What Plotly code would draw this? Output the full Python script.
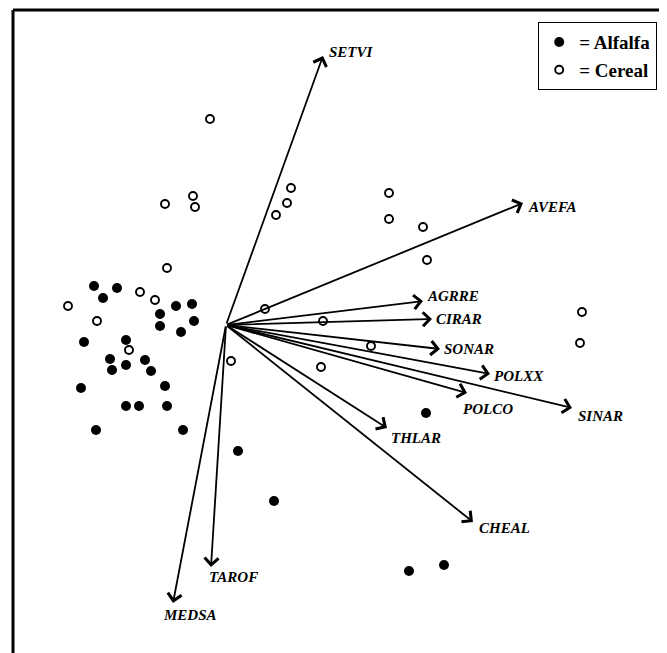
import plotly.graph_objects as go

# Sample scores (ordination axes 1 and 2)
alfalfa_x = [-1.32, -1.09, -1.23, -0.66, -0.50, -0.34, -0.66, -0.32, -0.45, -1.42, -1.00, -1.16, -0.81, -1.14,
             -1.00, -0.75, -1.45, -0.61, -1.00, -0.87, -0.59, -1.30, -0.43, 2.00, 0.12, 0.48, 1.83, 2.18]
alfalfa_y = [0.39, 0.37, 0.27, 0.11, 0.19, 0.21, -0.01, 0.04, -0.07, -0.17, -0.15, -0.34, -0.35, -0.45,
             -0.40, -0.46, -0.63, -0.61, -0.81, -0.81, -0.81, -1.05, -1.05, -0.88, -1.26, -1.76, -2.46, -2.40]

cereal_x = [-0.59, -0.86, -0.71, -1.58, -1.29, -0.97, 0.05, -0.16, -0.61, -0.33, -0.31, 0.65, 0.61, 0.50,
            1.63, 1.63, 1.97, 2.01, 0.39, 0.97, 1.45, 0.95, 3.56, 3.54]
cereal_y = [0.57, 0.33, 0.25, 0.19, 0.04, -0.25, -0.36, 2.06, 1.21, 1.29, 1.18, 1.37, 1.22, 1.10,
            1.32, 1.06, 0.98, 0.65, 0.16, 0.04, -0.21, -0.42, 0.13, -0.18]

# Species vectors (arrow tips)
species = ["SETVI", "AVEFA", "AGRRE", "CIRAR", "SONAR", "POLXX", "POLCO", "SINAR", "THLAR", "CHEAL", "TAROF", "MEDSA"]
species_x = [0.97, 2.97, 1.97, 2.06, 2.14, 2.64, 2.41, 3.46, 1.61, 2.47, -0.15, -0.53]
species_y = [2.69, 1.22, 0.24, 0.06, -0.24, -0.49, -0.68, -0.83, -1.03, -1.97, -2.42, -2.78]

# label placement offsets (pixels) relative to arrow tip
label_shift = {
    "SETVI": (4, 4), "AVEFA": (3, -4), "AGRRE": (2, 5), "CIRAR": (2, 0), "SONAR": (2, 0),
    "POLXX": (2, -2), "POLCO": (-6, -16), "SINAR": (4, -8), "THLAR": (2, -10), "CHEAL": (4, -6),
    "TAROF": (-4, -10), "MEDSA": (-12, -12),
}

W, H = 667, 653
OFF = 8  # page body margin of the browser, compensated in the ranges below
serif = "Liberation Serif, Times New Roman, serif"

fig = go.Figure()
fig.add_trace(go.Scatter(
    x=alfalfa_x, y=alfalfa_y, mode="markers", name="= Alfalfa",
    marker=dict(symbol="circle", size=10, color="black", line=dict(width=0)),
))
fig.add_trace(go.Scatter(
    x=cereal_x, y=cereal_y, mode="markers", name="= Cereal",
    marker=dict(symbol="circle-open", size=8, color="black", line=dict(width=1.9, color="black")),
))

annotations = []
for name, sx, sy in zip(species, species_x, species_y):
    annotations.append(dict(
        x=sx, y=sy, ax=0, ay=0, xref="x", yref="y", axref="x", ayref="y",
        showarrow=True, arrowhead=4, arrowsize=1.5, arrowwidth=1.8, arrowcolor="black",
        standoff=0, startstandoff=0, text="",
    ))
    dx, dy = label_shift[name]
    annotations.append(dict(
        x=sx, y=sy, xref="x", yref="y", showarrow=False,
        text=f"<b><i>{name}</i></b>", xanchor="left", yanchor="middle",
        xshift=dx, yshift=dy,
        font=dict(family=serif, size=15, color="black"),
    ))

fig.update_layout(
    width=W, height=H,
    margin=dict(l=0, r=0, t=0, b=0),
    paper_bgcolor="white", plot_bgcolor="white",
    xaxis=dict(range=[(OFF - 226) / 100, (OFF + W - 226) / 100], visible=False, showgrid=False, zeroline=False),
    yaxis=dict(range=[(325 - OFF - H) / 100, (325 - OFF) / 100], visible=False, showgrid=False, zeroline=False),
    annotations=annotations,
    showlegend=True,
    legend=dict(
        x=(538 - OFF) / W, y=1 - (22 - OFF) / H, xanchor="left", yanchor="top",
        bordercolor="black", borderwidth=1.2, bgcolor="white",
        font=dict(family=serif, size=19, color="black", weight="bold"),
        itemwidth=30, tracegroupgap=0,
    ),
    shapes=[
        dict(type="line", xref="paper", yref="paper", x0=(13 - OFF) / W, x1=1.0,
             y0=1 - (10 - OFF) / H, y1=1 - (10 - OFF) / H, line=dict(color="black", width=3)),
        dict(type="line", xref="paper", yref="paper", x0=(13 - OFF) / W, x1=(13 - OFF) / W,
             y0=0, y1=1 - (10 - OFF) / H, line=dict(color="black", width=3)),
    ],
)

fig.write_html("out.html")
